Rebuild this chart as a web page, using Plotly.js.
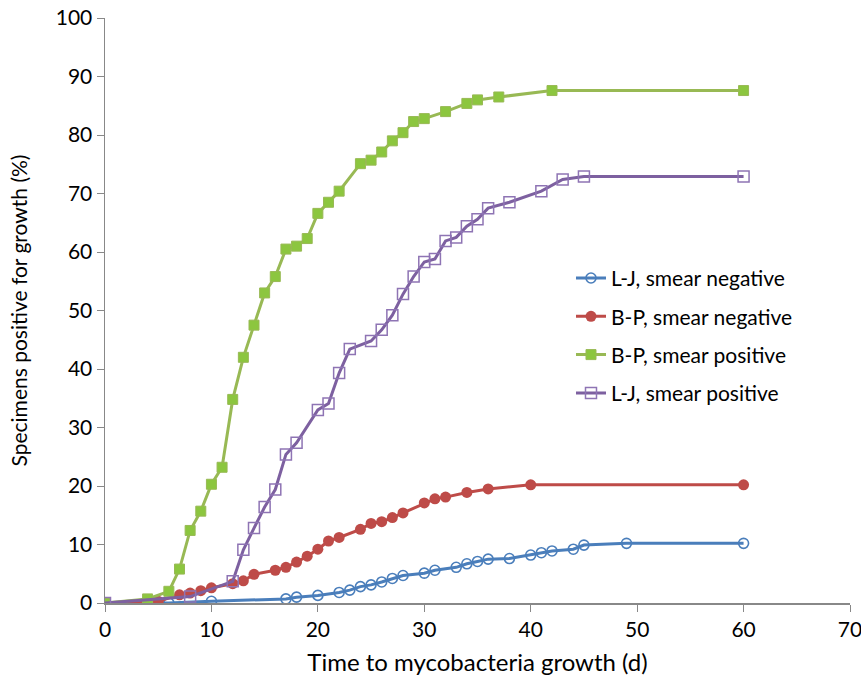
<!DOCTYPE html>
<html>
<head>
<meta charset="utf-8">
<script src="https://cdn.plot.ly/plotly-3.0.1.min.js"></script>
<style>html,body{margin:0;padding:0;background:#fff;}#chart{width:861px;height:691px;}</style>
</head>
<body>
<div id="chart"></div>
<script>
var ljNegX = [0, 6, 10, 17, 18, 20, 22, 23, 24, 25, 26, 27, 28, 30, 31, 33, 34, 35, 36, 38, 40, 41, 42, 44, 45, 49, 60];
var ljNegY = [0, 0, 0.3, 0.7, 1.0, 1.3, 1.8, 2.2, 2.8, 3.1, 3.6, 4.2, 4.7, 5.1, 5.6, 6.1, 6.7, 7.1, 7.5, 7.6, 8.2, 8.6, 8.9, 9.2, 9.9, 10.2, 10.2];

var bpNegX = [0, 5, 7, 8, 9, 10, 12, 13, 14, 16, 17, 18, 19, 20, 21, 22, 24, 25, 26, 27, 28, 30, 31, 32, 34, 36, 40, 60];
var bpNegY = [0, 0.3, 1.4, 1.7, 2.1, 2.6, 3.3, 3.8, 4.9, 5.6, 6.1, 7.0, 8.0, 9.2, 10.6, 11.2, 12.6, 13.6, 13.9, 14.6, 15.4, 17.1, 17.8, 18.1, 18.9, 19.5, 20.2, 20.2];

var bpPosX = [0, 4, 6, 7, 8, 9, 10, 11, 12, 13, 14, 15, 16, 17, 18, 19, 20, 21, 22, 24, 25, 26, 27, 28, 29, 30, 32, 34, 35, 37, 42, 60];
var bpPosY = [0, 0.7, 2.0, 5.8, 12.4, 15.7, 20.3, 23.2, 34.8, 42, 47.5, 53, 55.8, 60.5, 61, 62.3, 66.6, 68.5, 70.4, 75.1, 75.7, 77.1, 79, 80.4, 82.3, 82.8, 84, 85.4, 86, 86.5, 87.6, 87.6];

var ljPosX = [0, 8, 12, 13, 14, 15, 16, 17, 18, 20, 21, 22, 23, 25, 26, 27, 28, 29, 30, 31, 32, 33, 34, 35, 36, 38, 41, 43, 45, 60];
var ljPosY = [0, 1.1, 3.7, 9.1, 12.8, 16.4, 19.4, 25.4, 27.4, 33, 34.1, 39.3, 43.4, 44.8, 46.7, 49.2, 52.8, 55.8, 58.3, 58.8, 61.9, 62.5, 64.4, 65.6, 67.5, 68.5, 70.4, 72.4, 72.9, 72.9];

var xTicks = [0, 10, 20, 30, 40, 50, 60, 70];
var yTicks = [0, 10, 20, 30, 40, 50, 60, 70, 80, 90, 100];

var font = "Lato, 'Open Sans', sans-serif";

var traces = [
  {x: ljNegX, y: ljNegY, name: 'L-J, smear negative', mode: 'lines+markers', legendgroup: 'a',
   line: {color: '#4A7EBB', width: 3},
   marker: {symbol: 'circle-open', size: 10, color: '#4A7EBB', line: {width: 1.6, color: '#4A7EBB'}}},
  {x: bpNegX, y: bpNegY, name: 'B-P, smear negative', mode: 'lines+markers', legendgroup: 'b',
   line: {color: '#BE4B48', width: 3},
   marker: {symbol: 'circle', size: 11, color: '#BE4B48', line: {width: 0}}},
  {x: bpPosX, y: bpPosY, name: 'B-P, smear positive', mode: 'lines+markers', legendgroup: 'c',
   line: {color: '#98B954', width: 3},
   marker: {symbol: 'square', size: 10, color: '#8CC63F', line: {width: 1, color: '#98B954'}}},
  {x: ljPosX, y: ljPosY, name: 'L-J, smear positive', mode: 'lines+markers', legendgroup: 'd',
   line: {color: '#7D60A0', width: 3},
   marker: {symbol: 'square-open', size: 11, color: '#8E74B4', line: {width: 1.5, color: '#8E74B4'}}}
];

var layout = {
  width: 861, height: 691,
  margin: {l: 105, r: 11, t: 18, b: 88},
  paper_bgcolor: '#fff', plot_bgcolor: '#fff',
  font: {family: font, size: 21, color: '#000'},
  showlegend: true,
  legend: {x: 0.6255, y: 0.59, xanchor: 'left', yanchor: 'top', bgcolor: 'rgba(0,0,0,0)',
           traceorder: 'grouped', tracegroupgap: 8,
           font: {family: font, size: 21, color: '#000'}},
  xaxis: {range: [0, 70], tickvals: xTicks, ticktext: xTicks.map(String), showgrid: false, zeroline: false,
          showline: true, linecolor: '#888', linewidth: 1.5, ticks: 'outside', ticklen: 7, tickcolor: '#888',
          ticklabeloverflow: 'allow',
          tickfont: {family: font, size: 21}, fixedrange: true,
          title: {text: 'Time to mycobacteria growth (d)', font: {family: font, size: 24}, standoff: 14}},
  yaxis: {range: [0, 100], tickvals: yTicks, ticktext: yTicks.map(String), showgrid: false, zeroline: false,
          showline: true, linecolor: '#888', linewidth: 1.5, ticks: 'outside', ticklen: 7, tickcolor: '#888',
          ticklabeloverflow: 'allow',
          tickfont: {family: font, size: 21}, fixedrange: true,
          title: {text: 'Specimens positive for growth (%)', font: {family: font, size: 21}, standoff: 22}}
};

Plotly.newPlot('chart', traces, layout, {displayModeBar: false, staticPlot: true});
</script>
</body>
</html>
